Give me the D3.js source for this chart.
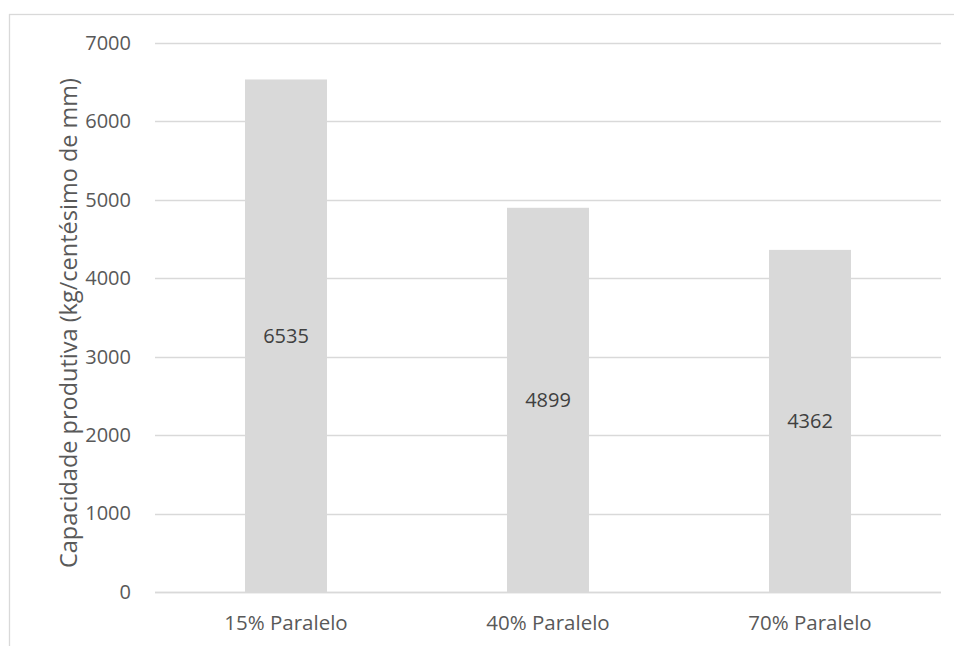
<!DOCTYPE html>
<html>
<head>
<meta charset="utf-8">
<script src="https://cdn.jsdelivr.net/npm/d3@7"></script>
<style>
  html, body { margin: 0; padding: 0; background: #fff; }
  svg { display: block; }
  text { font-family: "Open Sans", "Noto Sans", sans-serif; }
</style>
</head>
<body>
<svg id="chart" width="954" height="646"></svg>
<script>
// Production capacity per parallel setting
const categories = ["15% Paralelo", "40% Paralelo", "70% Paralelo"];
const values = [6535, 4899, 4362];
const yTicks = [0, 1000, 2000, 3000, 4000, 5000, 6000, 7000];
const yTitle = "Capacidade produtiva (kg/centésimo de mm)";

const svg = d3.select("#chart");
const margin = { left: 155, right: 13, top: 43, bottom: 54 };
const W = 954, H = 646;

// chart area frame
svg.append("rect")
  .attr("x", 9.5).attr("y", 14.5)
  .attr("width", W + 20).attr("height", H + 20)
  .attr("fill", "none").attr("stroke", "#d9d9d9").attr("stroke-width", 1.3);

const x = d3.scaleBand()
  .domain(categories)
  .range([margin.left, W - margin.right])
  .paddingInner(0.687).paddingOuter(0.3435);

const y = d3.scaleLinear()
  .domain([0, 7000])
  .range([H - margin.bottom, margin.top]);

// gridlines
svg.append("g")
  .selectAll("line")
  .data(yTicks)
  .join("line")
  .attr("x1", margin.left).attr("x2", W - margin.right)
  .attr("y1", d => Math.round(y(d)) + 0.5).attr("y2", d => Math.round(y(d)) + 0.5)
  .attr("stroke", "#d9d9d9").attr("stroke-width", 1.3);

// y tick labels
const yAxis = d3.axisLeft(y).tickValues(yTicks).tickFormat(d3.format("d")).tickSize(0).tickPadding(0);
svg.append("g")
  .attr("transform", `translate(131,0)`)
  .call(yAxis)
  .call(g => g.select(".domain").remove())
  .call(g => g.selectAll("text")
    .attr("fill", "#595959")
    .style("font-size", "20px")
    .style("font-family", "'Open Sans', sans-serif"));

// bars
svg.append("g")
  .selectAll("rect")
  .data(values)
  .join("rect")
  .attr("x", (d, i) => x(categories[i]))
  .attr("width", x.bandwidth())
  .attr("y", d => y(d))
  .attr("height", d => y(0) - y(d))
  .attr("fill", "#d9d9d9");

// baseline
svg.append("line")
  .attr("x1", margin.left).attr("x2", W - margin.right)
  .attr("y1", Math.round(y(0)) + 0.5).attr("y2", Math.round(y(0)) + 0.5)
  .attr("stroke", "#d9d9d9").attr("stroke-width", 1.3);

// value labels, centred in each bar
svg.append("g")
  .selectAll("text")
  .data(values)
  .join("text")
  .attr("x", (d, i) => x(categories[i]) + x.bandwidth() / 2)
  .attr("y", d => (y(d) + y(0)) / 2)
  .attr("dy", "0.35em")
  .attr("text-anchor", "middle")
  .attr("fill", "#404040")
  .style("font-size", "20px")
  .text(d => d);

// x category labels
const xAxis = d3.axisBottom(x).tickSize(0).tickPadding(0);
svg.append("g")
  .attr("transform", `translate(0,${H - margin.bottom + 31})`)
  .call(xAxis)
  .call(g => g.select(".domain").remove())
  .call(g => g.selectAll("text")
    .attr("fill", "#595959")
    .attr("dy", "0.35em")
    .style("font-size", "20.5px")
    .style("font-family", "'Open Sans', sans-serif"));

// y axis title
svg.append("text")
  .attr("transform", `translate(69,323) rotate(-90)`)
  .attr("text-anchor", "middle")
  .attr("dy", "0.35em")
  .attr("fill", "#595959")
  .style("font-size", "23.5px")
  .text(yTitle);
</script>
</body>
</html>
